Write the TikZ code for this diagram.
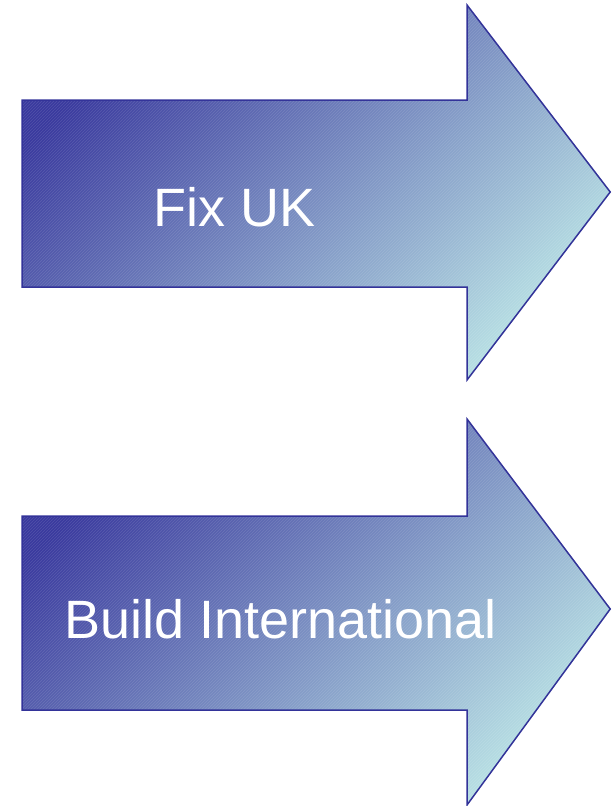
\documentclass[tikz,border=0pt]{standalone}
\usepackage{fontspec}
\setmainfont{Liberation Sans}
\usetikzlibrary{patterns}
\definecolor{arrowdark}{RGB}{58,58,158}
\definecolor{arrowmid}{RGB}{128,150,192}
\definecolor{arrowlight}{RGB}{184,224,228}
\definecolor{arrowline}{RGB}{51,51,153}
\tikzset{
  bigarrow/.style={shading=axis, top color=arrowdark, middle color=arrowmid, bottom color=arrowlight, shading angle=45},
  arrowedge/.style={draw=arrowline, line width=1.5pt, line join=miter},
  hatch/.style={pattern=north east lines, pattern color=white, opacity=0.12},
  label/.style={text=white, inner sep=0pt, anchor=base west, font=\fontsize{54}{60}\selectfont}
}
\begin{document}
\begin{tikzpicture}[x=1pt,y=-1pt]
\useasboundingbox (0,0) rectangle (611,806);
% arrow 1
\path[bigarrow] (22,100) -- (467,100) -- (467,5) -- (611,192) -- (467,380) -- (467,287) -- (22,287) -- cycle;
\path[hatch] (22,100) -- (467,100) -- (467,5) -- (611,192) -- (467,380) -- (467,287) -- (22,287) -- cycle;
\draw[arrowedge] (22,100) -- (467,100) -- (467,5) -- (610.2,192) -- (467,380) -- (467,287) -- (22,287) -- cycle;
% arrow 2
\path[bigarrow] (22,516) -- (467,516) -- (467,419) -- (611,609) -- (467,805) -- (467,710) -- (22,710) -- cycle;
\path[hatch] (22,516) -- (467,516) -- (467,419) -- (611,609) -- (467,805) -- (467,710) -- (22,710) -- cycle;
\draw[arrowedge] (22,516) -- (467,516) -- (467,419) -- (610.2,609) -- (467,805) -- (467,710) -- (22,710) -- cycle;
% labels
\node[label] (fixuk) at (153,226) {Fix UK};
\node[label] (build) at (64,638) {Build International};
\end{tikzpicture}
\end{document}
